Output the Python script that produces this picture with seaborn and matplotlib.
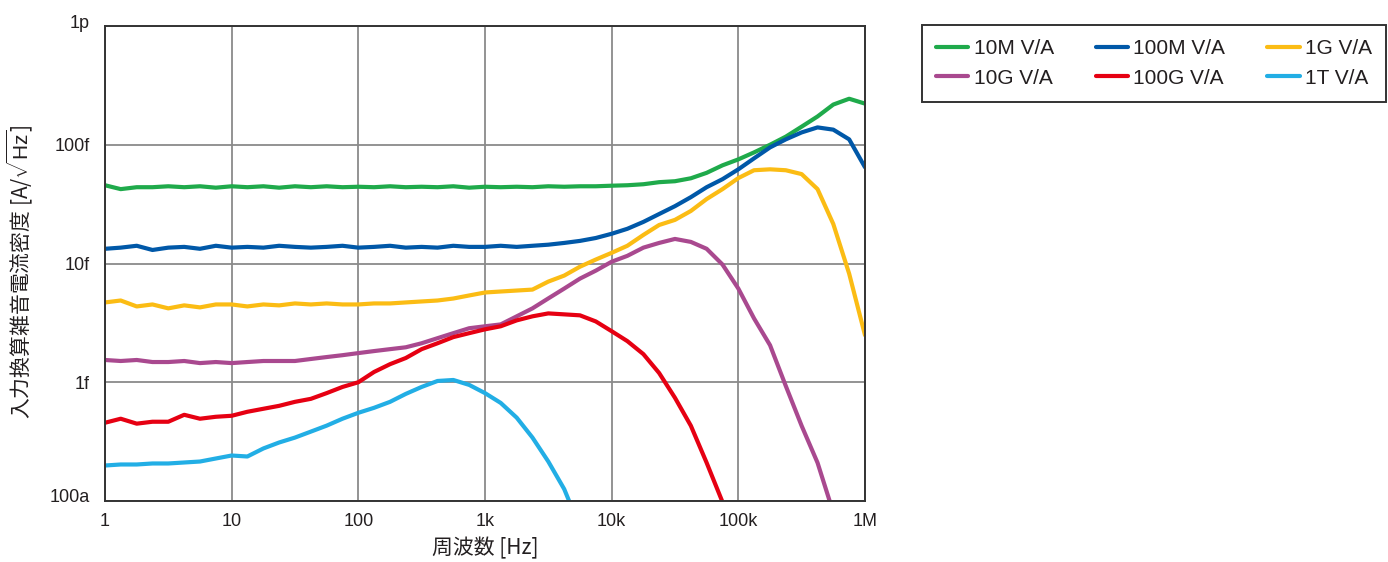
import matplotlib
matplotlib.use("Agg")
import matplotlib.pyplot as plt
import matplotlib.transforms as mtransforms
import seaborn as sns
import pandas as pd

# ---------------- data (noise current density in fA/sqrt(Hz)) ----------------
freq_hz = [1, 1.33, 1.78, 2.37, 3.16, 4.22, 5.62, 7.5,
           10, 13.3, 17.8, 23.7, 31.6, 42.2, 56.2, 75,
           100, 133, 178, 237, 316, 422, 562, 750,
           1e3, 1.33e3, 1.78e3, 2.37e3, 3.16e3, 4.22e3, 5.62e3, 7.5e3,
           1e4, 1.33e4, 1.78e4, 2.37e4, 3.16e4, 4.22e4, 5.62e4, 7.5e4,
           1e5, 1.33e5, 1.78e5, 2.37e5, 3.16e5, 4.22e5, 5.62e5, 7.5e5, 1e6]

g10M = [45.6, 42.3, 43.9, 43.9, 44.7, 43.9, 44.7, 43.5,
        44.7, 43.9, 44.7, 43.5, 44.7, 43.9, 44.7, 43.9,
        44.3, 43.9, 44.7, 43.9, 44.3, 43.9, 44.7, 43.5,
        44.3, 43.9, 44.3, 43.9, 44.7, 44.3, 44.7, 44.7,
        45.2, 45.6, 46.5, 48.4, 49.3, 52.2, 58.0, 67.1,
        75.3, 86.2, 100, 117, 142, 173, 218, 244, 222]

g100M = [13.3, 13.6, 14.1, 13.0, 13.6, 13.8, 13.3, 14.1,
         13.6, 13.8, 13.6, 14.1, 13.8, 13.6, 13.8, 14.1,
         13.6, 13.8, 14.1, 13.6, 13.8, 13.6, 14.1, 13.8,
         13.8, 14.1, 13.8, 14.1, 14.4, 14.9, 15.5, 16.4,
         17.8, 19.6, 22.4, 26.1, 30.4, 36.2, 43.9, 51.3,
         62.1, 76.8, 95.0, 111, 127, 140, 134, 111, 64.6]

g1G = [4.70, 4.88, 4.35, 4.52, 4.19, 4.44, 4.27, 4.52,
       4.52, 4.35, 4.52, 4.44, 4.61, 4.52, 4.61, 4.52,
       4.52, 4.61, 4.61, 4.70, 4.79, 4.88, 5.07, 5.38,
       5.70, 5.81, 5.92, 6.03, 7.04, 7.91, 9.40, 10.8,
       12.3, 14.1, 17.4, 21.1, 23.3, 27.7, 34.9, 42.3,
       52.4, 61.0, 62.1, 61.0, 56.6, 42.3, 21.5, 8.2, 2.49]

g10G = [1.54, 1.51, 1.54, 1.48, 1.48, 1.51, 1.45, 1.48,
        1.45, 1.48, 1.51, 1.51, 1.51, 1.57, 1.63, 1.69,
        1.76, 1.83, 1.90, 1.97, 2.13, 2.35, 2.59, 2.85,
        2.96, 3.07, 3.59, 4.19, 5.08, 6.15, 7.46, 8.71,
        10.35, 11.6, 13.6, 14.9, 16.1, 15.2, 13.3, 9.8,
        6.15, 3.45, 2.05, 0.93, 0.43, 0.21, 0.08]

g100G = [0.456, 0.493, 0.448, 0.465, 0.465, 0.532, 0.493, 0.512,
         0.522, 0.564, 0.598, 0.633, 0.684, 0.725, 0.81, 0.913,
         1.0, 1.22, 1.42, 1.60, 1.90, 2.13, 2.40, 2.59,
         2.79, 2.96, 3.32, 3.59, 3.80, 3.73, 3.66, 3.25,
         2.69, 2.22, 1.725, 1.196, 0.74, 0.43, 0.21, 0.098]

g1T = [0.199, 0.203, 0.203, 0.207, 0.207, 0.211, 0.215, 0.228,
       0.2416, 0.237, 0.277, 0.311, 0.342, 0.384, 0.431, 0.493,
       0.553, 0.609, 0.684, 0.798, 0.913, 1.025, 1.045, 0.95,
       0.81, 0.67, 0.503, 0.342, 0.215, 0.126, 0.060]

series_names = ["10M V/A", "100M V/A", "1G V/A", "10G V/A", "100G V/A", "1T V/A"]
series_vals = [g10M, g100M, g1G, g10G, g100G, g1T]
series_colors = ["#1faa4b", "#0058a8", "#fbbc14", "#a9498f", "#e60012", "#22aee5"]

x_ticks = [1, 10, 100, 1e3, 1e4, 1e5, 1e6]
x_tick_labels = ["1", "10", "100", "1k", "10k", "100k", "1M"]
y_ticks = [0.1, 1, 10, 100, 1000]
y_tick_labels = ["100a", "1f", "10f", "100f", "1p"]

# ---------------- long table ----------------
rows = []
for name, vals in zip(series_names, series_vals):
    for f, v in zip(freq_hz, vals):
        rows.append({"f": f, "v": v, "s": name})
df = pd.DataFrame(rows)

sns.set_theme(style="white")
plt.rcParams["font.family"] = ["Liberation Sans", "Noto Sans CJK JP", "DejaVu Sans"]
plt.rcParams["mathtext.fontset"] = "custom"
plt.rcParams["mathtext.rm"] = "Liberation Sans"

txt = "#231f20"
fig = plt.figure(figsize=(13.88, 5.62), dpi=100)
ax = fig.add_axes([105 / 1388, 1 - 501 / 562, 760 / 1388, 475 / 562])
ax.set_xscale("log")
ax.set_yscale("log")

sns.lineplot(data=df, x="f", y="v", hue="s", hue_order=series_names,
             palette=dict(zip(series_names, series_colors)),
             estimator=None, sort=False, linewidth=3.0, ax=ax, legend=False)

ax.set_xlim(1, 1e6)
ax.set_ylim(0.1, 1000)
ax.set_xticks(x_ticks)
ax.set_xticklabels(x_tick_labels)
ax.set_yticks(y_ticks)
ax.set_yticklabels(y_tick_labels)
ax.minorticks_off()
ax.tick_params(axis="both", length=0, labelsize=13, colors=txt)
ax.tick_params(axis="y", pad=11)
ax.tick_params(axis="x", pad=9)
ax.grid(True, which="major", color="#8a8a8a", linewidth=1.3)
for sp in ax.spines.values():
    sp.set_color("#333333")
    sp.set_linewidth(1.4)

# the extreme y labels sit a little above their gridlines
ylabels = ax.get_yticklabels()
up = mtransforms.ScaledTranslation(0, 5 / 100, fig.dpi_scale_trans)
for lab in (ylabels[0], ylabels[-1]):
    lab.set_transform(lab.get_transform() + up)

ax.set_xlabel("周波数 [Hz]", fontsize=15, color=txt, labelpad=5,
              family=["Noto Sans CJK JP", "DejaVu Sans"])
ax.set_ylabel("入力換算雑音電流密度 [A/$\\sqrt{\\mathrm{Hz}}$]", fontsize=15, color=txt,
              family="Noto Sans CJK JP")
ax.yaxis.set_label_coords(-0.092, 0.482)

# ---------------- legend ----------------
lines = ax.get_lines()
handles = {n: l for n, l in zip(series_names, lines)}
order = ["10M V/A", "10G V/A", "100M V/A", "100G V/A", "1G V/A", "1T V/A"]
leg = fig.legend([handles[n] for n in order], order, loc="upper left",
                 bbox_to_anchor=(922 / 1388, 1 - 101 / 562, 464 / 1388, 76 / 562),
                 mode="expand", ncol=3, fontsize=15, frameon=True, fancybox=False,
                 edgecolor="#333333", framealpha=1, handlelength=1.55,
                 handletextpad=0.25, borderpad=0.68, labelspacing=0.5,
                 borderaxespad=0)
leg.get_frame().set_linewidth(1.4)
for t in leg.get_texts():
    t.set_color(txt)
for l in leg.get_lines():
    l.set_linewidth(3.0)

fig.savefig("out.png", dpi=100)
